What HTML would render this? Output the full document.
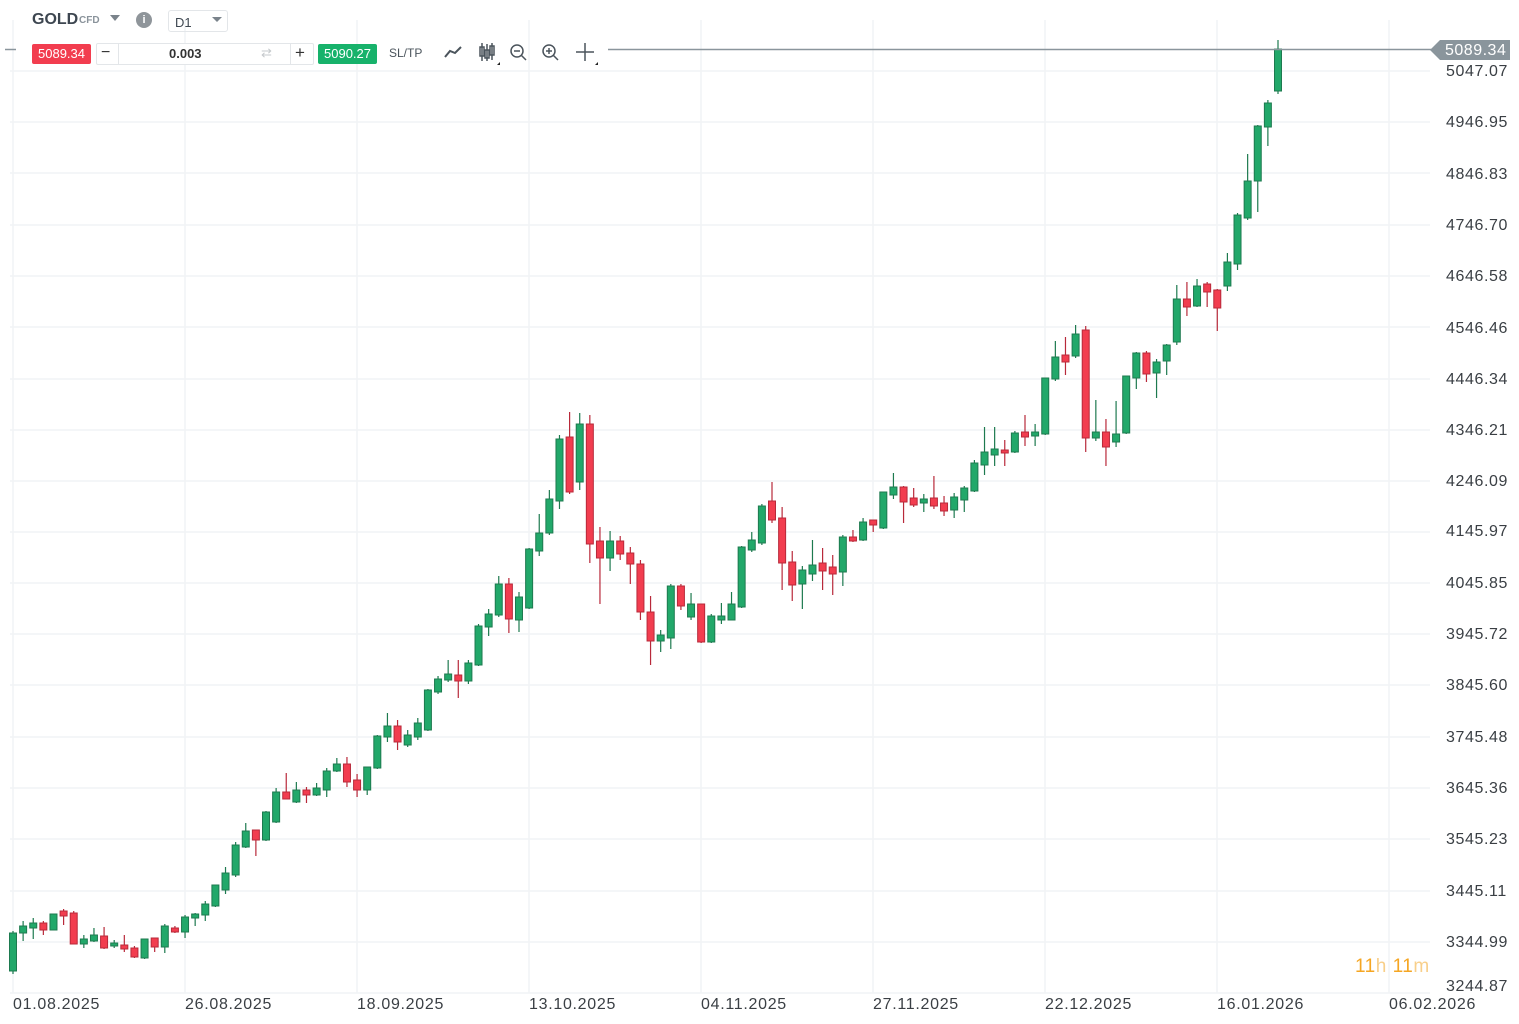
<!DOCTYPE html>
<html><head><meta charset="utf-8"><style>
body{margin:0;width:1519px;height:1024px;background:#fff;font-family:"Liberation Sans",sans-serif;overflow:hidden;position:relative}
.a{position:absolute;white-space:nowrap}
.yl{position:absolute;left:1446px;font-size:16px;color:#3a3f44;line-height:16px;letter-spacing:0.6px}
.xl{position:absolute;top:997px;font-size:16px;color:#3a3f44;line-height:16px;letter-spacing:0.7px}
</style></head><body>
<svg id="s" width="1519" height="1024" style="position:absolute;left:0;top:0">
<g stroke="#f1f3f5" stroke-width="1.5" id="grid"></g>
<g id="c"></g>
<line x1="608" y1="49.5" x2="1432" y2="49.5" stroke="#8a959c" stroke-width="1.5"/>
<line x1="5" y1="49.5" x2="16" y2="49.5" stroke="#8a959c" stroke-width="1.5"/>
<polygon points="1430,50 1440,40 1510,40 1510,60 1440,60" fill="#8a959c"/>
</svg>
<div class="a" style="left:1445px;top:43px;font-size:16px;color:#fff;line-height:16px;letter-spacing:0.5px">5089.34</div>
<div class="yl" style="top:64px">5047.07</div>
<div class="yl" style="top:115px">4946.95</div>
<div class="yl" style="top:167px">4846.83</div>
<div class="yl" style="top:218px">4746.70</div>
<div class="yl" style="top:269px">4646.58</div>
<div class="yl" style="top:321px">4546.46</div>
<div class="yl" style="top:372px">4446.34</div>
<div class="yl" style="top:423px">4346.21</div>
<div class="yl" style="top:474px">4246.09</div>
<div class="yl" style="top:524px">4145.97</div>
<div class="yl" style="top:576px">4045.85</div>
<div class="yl" style="top:627px">3945.72</div>
<div class="yl" style="top:678px">3845.60</div>
<div class="yl" style="top:730px">3745.48</div>
<div class="yl" style="top:781px">3645.36</div>
<div class="yl" style="top:832px">3545.23</div>
<div class="yl" style="top:884px">3445.11</div>
<div class="yl" style="top:935px">3344.99</div>
<div class="yl" style="top:979px">3244.87</div>
<div class="xl" style="left:13px">01.08.2025</div>
<div class="xl" style="left:185px">26.08.2025</div>
<div class="xl" style="left:357px">18.09.2025</div>
<div class="xl" style="left:529px">13.10.2025</div>
<div class="xl" style="left:701px">04.11.2025</div>
<div class="xl" style="left:873px">27.11.2025</div>
<div class="xl" style="left:1045px">22.12.2025</div>
<div class="xl" style="left:1217px">16.01.2026</div>
<div class="xl" style="left:1389px">06.02.2026</div>
<div class="a" style="left:1355px;top:956px;font-size:19px;color:#f5a623;letter-spacing:0.5px">11<span style="color:#f8cf8a">h</span> 11<span style="color:#f8cf8a">m</span></div>
<div class="a" style="left:32px;top:11px;font-size:16px;font-weight:bold;color:#3d4650">GOLD</div>
<div class="a" style="left:79px;top:15px;font-size:10px;color:#8a939b;font-weight:bold">CFD</div>
<div class="a" style="left:110px;top:15px;width:0;height:0;border-left:5px solid transparent;border-right:5px solid transparent;border-top:6px solid #7a838b"></div>
<div class="a" style="left:136px;top:12px;width:16px;height:16px;border-radius:50%;background:#8f959a;color:#fff;font-size:11px;font-weight:bold;text-align:center;line-height:16px">i</div>
<div class="a" style="left:168px;top:10px;width:58px;height:20px;border:1px solid #e3e6e9;border-radius:3px"></div>
<div class="a" style="left:175px;top:15px;font-size:13px;color:#3d4650">D1</div>
<div class="a" style="left:212px;top:17px;width:0;height:0;border-left:5px solid transparent;border-right:5px solid transparent;border-top:5px solid #7a838b"></div>
<div class="a" style="left:32px;top:44px;width:59px;height:20px;background:#f23d4f;border-radius:2px;color:#fff;font-size:13px;text-align:center;line-height:20px">5089.34</div>
<div class="a" style="left:96px;top:43px;width:216px;height:20px;border:1px solid #e3e6e9;border-radius:2px;background:#fff"></div>
<div class="a" style="left:118px;top:44px;width:1px;height:20px;background:#e3e6e9"></div>
<div class="a" style="left:290px;top:44px;width:1px;height:20px;background:#e3e6e9"></div>
<div class="a" style="left:101px;top:44px;font-size:16px;color:#333">−</div>
<div class="a" style="left:295px;top:43px;font-size:17px;color:#333">+</div>
<div class="a" style="left:169px;top:46px;font-size:13px;font-weight:bold;color:#333">0.003</div>
<div class="a" style="left:261px;top:45px;font-size:13px;color:#c5c9cc">⇄</div>
<div class="a" style="left:318px;top:44px;width:59px;height:20px;background:#17b26b;border-radius:2px;color:#fff;font-size:13px;text-align:center;line-height:20px">5090.27</div>
<div class="a" style="left:389px;top:46px;font-size:12px;color:#4b545c">SL/TP</div>
<svg class="a" style="left:440px;top:40px" width="170" height="28">
<polyline points="5,17 10,11 15,13 21,7" fill="none" stroke="#4b545c" stroke-width="2"/>
<g stroke="#4b545c" stroke-width="1.5" fill="none"><line x1="42" y1="3" x2="42" y2="21"/><rect x="40" y="7" width="4" height="9"/><line x1="47" y1="4" x2="47" y2="21"/><rect x="45" y="10" width="4" height="8"/><line x1="52" y1="3" x2="52" y2="20"/><rect x="50" y="6" width="4" height="9"/>
<circle cx="77" cy="11" r="6"/><line x1="81" y1="15" x2="86" y2="20"/><line x1="74" y1="11" x2="80" y2="11"/>
<circle cx="109" cy="11" r="6"/><line x1="113" y1="15" x2="118" y2="20"/><line x1="106" y1="11" x2="112" y2="11"/><line x1="109" y1="8" x2="109" y2="14"/>
<line x1="145" y1="3" x2="145" y2="21"/><line x1="136" y1="12" x2="154" y2="12"/></g>
<polygon points="57,25 60,22 60,25" fill="#222"/><polygon points="155,25 158,22 158,25" fill="#222"/>
</svg>
<script>
var g=document.getElementById('grid'),h='';
[71,122,173,225,276,327,379,430,481,532,583,634,685,737,788,839,891,942,993].forEach(function(y){h+='<line x1="10" y1="'+y+'" x2="1430" y2="'+y+'"/>';});
[13,185,357,529,701,873,1045,1217,1389].forEach(function(x){h+='<line x1="'+x+'" y1="20" x2="'+x+'" y2="993"/>';});
g.innerHTML=h;
var d=[
['G',933,971,931,974],['G',926,933,921,941],['G',923,928,918,939],['R',923,930,921,935],['G',914,930,914,930],['R',911,916,909,925],['R',913,944,911,944],['G',939,944,935,948],['G',935,941,928,942],['R',936,948,927,949],
['G',943,946,940,948],['R',945,949,935,952],['R',948,957,946,958],['G',939,958,939,959],['R',938,947,938,952],['G',926,947,924,953],['R',928,932,926,933],['G',917,932,915,938],['G',914,918,913,926],['G',904,915,901,921],
['G',885,906,885,907],['G',873,890,867,894],['G',845,875,842,877],['G',831,847,823,848],['R',830,840,830,856],['G',812,840,811,841],['G',792,822,788,823],['R',792,799,773,799],['G',790,802,782,803],['R',790,795,787,803],
['G',788,795,783,796],['G',771,790,768,797],['G',764,771,758,772],['R',764,782,757,787],['R',780,790,774,797],['G',767,790,767,795],['G',736,768,735,769],['G',726,737,713,742],['R',726,742,720,750],['G',735,745,730,747],
['G',723,737,718,740],['G',690,730,689,731],['G',679,692,676,694],['G',674,680,660,682],['R',675,681,660,698],['G',663,681,660,684],['G',626,665,624,666],['G',614,627,609,636],['G',584,615,576,617],['R',584,619,578,633],
['G',597,620,592,632],['G',549,608,548,609],['G',533,551,514,556],['G',499,533,490,535],['G',439,501,435,509],['R',437,492,412,494],['G',424,482,413,490],['R',424,544,415,563],['R',541,558,527,604],['G',541,558,531,571],
['R',541,554,536,560],['R',553,564,547,584],['R',564,612,560,620],['R',612,641,596,665],['G',635,641,630,652],['G',586,638,584,649],['R',586,606,584,610],['G',604,617,593,620],['R',604,642,604,643],['G',616,642,614,643],
['G',616,620,603,624],['G',604,620,592,620],['G',547,607,546,608],['G',540,550,532,552],['G',506,543,504,545],['R',501,520,482,523],['R',518,563,507,590],['R',562,585,551,601],['G',570,584,566,609],['G',565,574,540,581],
['R',563,571,548,590],['R',567,574,555,595],['G',537,572,535,586],['R',537,541,530,542],['G',522,540,518,541],['R',520,525,520,532],['G',492,528,492,529],['G',487,495,473,499],['R',487,502,486,523],['R',498,505,488,507],
['G',499,503,494,512],['R',498,506,476,509],['R',503,511,496,516],['G',497,510,493,518],['G',488,500,486,512],['G',463,491,460,492],['G',452,465,427,475],['G',449,455,427,466],['R',450,453,440,466],['G',433,452,431,453],
['R',432,437,415,446],['G',432,436,424,446],['G',378,434,378,435],['G',357,379,341,381],['R',355,362,337,375],['G',334,356,325,358],['R',330,438,326,452],['G',432,438,400,441],['R',432,447,419,466],['G',434,442,401,447],
['G',376,433,376,434],['G',353,378,352,389],['R',353,374,351,382],['G',362,373,359,398],['G',345,361,344,375],['G',299,342,285,345],['R',299,307,282,316],['G',286,306,279,307],['R',284,292,282,307],['R',290,308,289,331],
['G',262,286,253,291],['G',215,264,213,270],['G',181,218,154,220],['G',126,181,125,212],['G',103,127,100,146],['G',49,91,40,94]];
var s='';
d.forEach(function(c,i){var x=13+10.12*i,f=c[0]=='G'?'#22a86a':'#f23d4f',st=c[0]=='G'?'#1d7a4f':'#b8293a';
s+='<line x1="'+x+'" y1="'+c[3]+'" x2="'+x+'" y2="'+c[4]+'" stroke="'+st+'" stroke-width="1.2"/>';
var hh=Math.max(c[2]-c[1],2);
s+='<rect x="'+(x-3.5)+'" y="'+c[1]+'" width="7" height="'+hh+'" fill="'+f+'" stroke="'+st+'" stroke-width="1"/>';});
document.getElementById('c').innerHTML=s;
</script>
</body></html>
